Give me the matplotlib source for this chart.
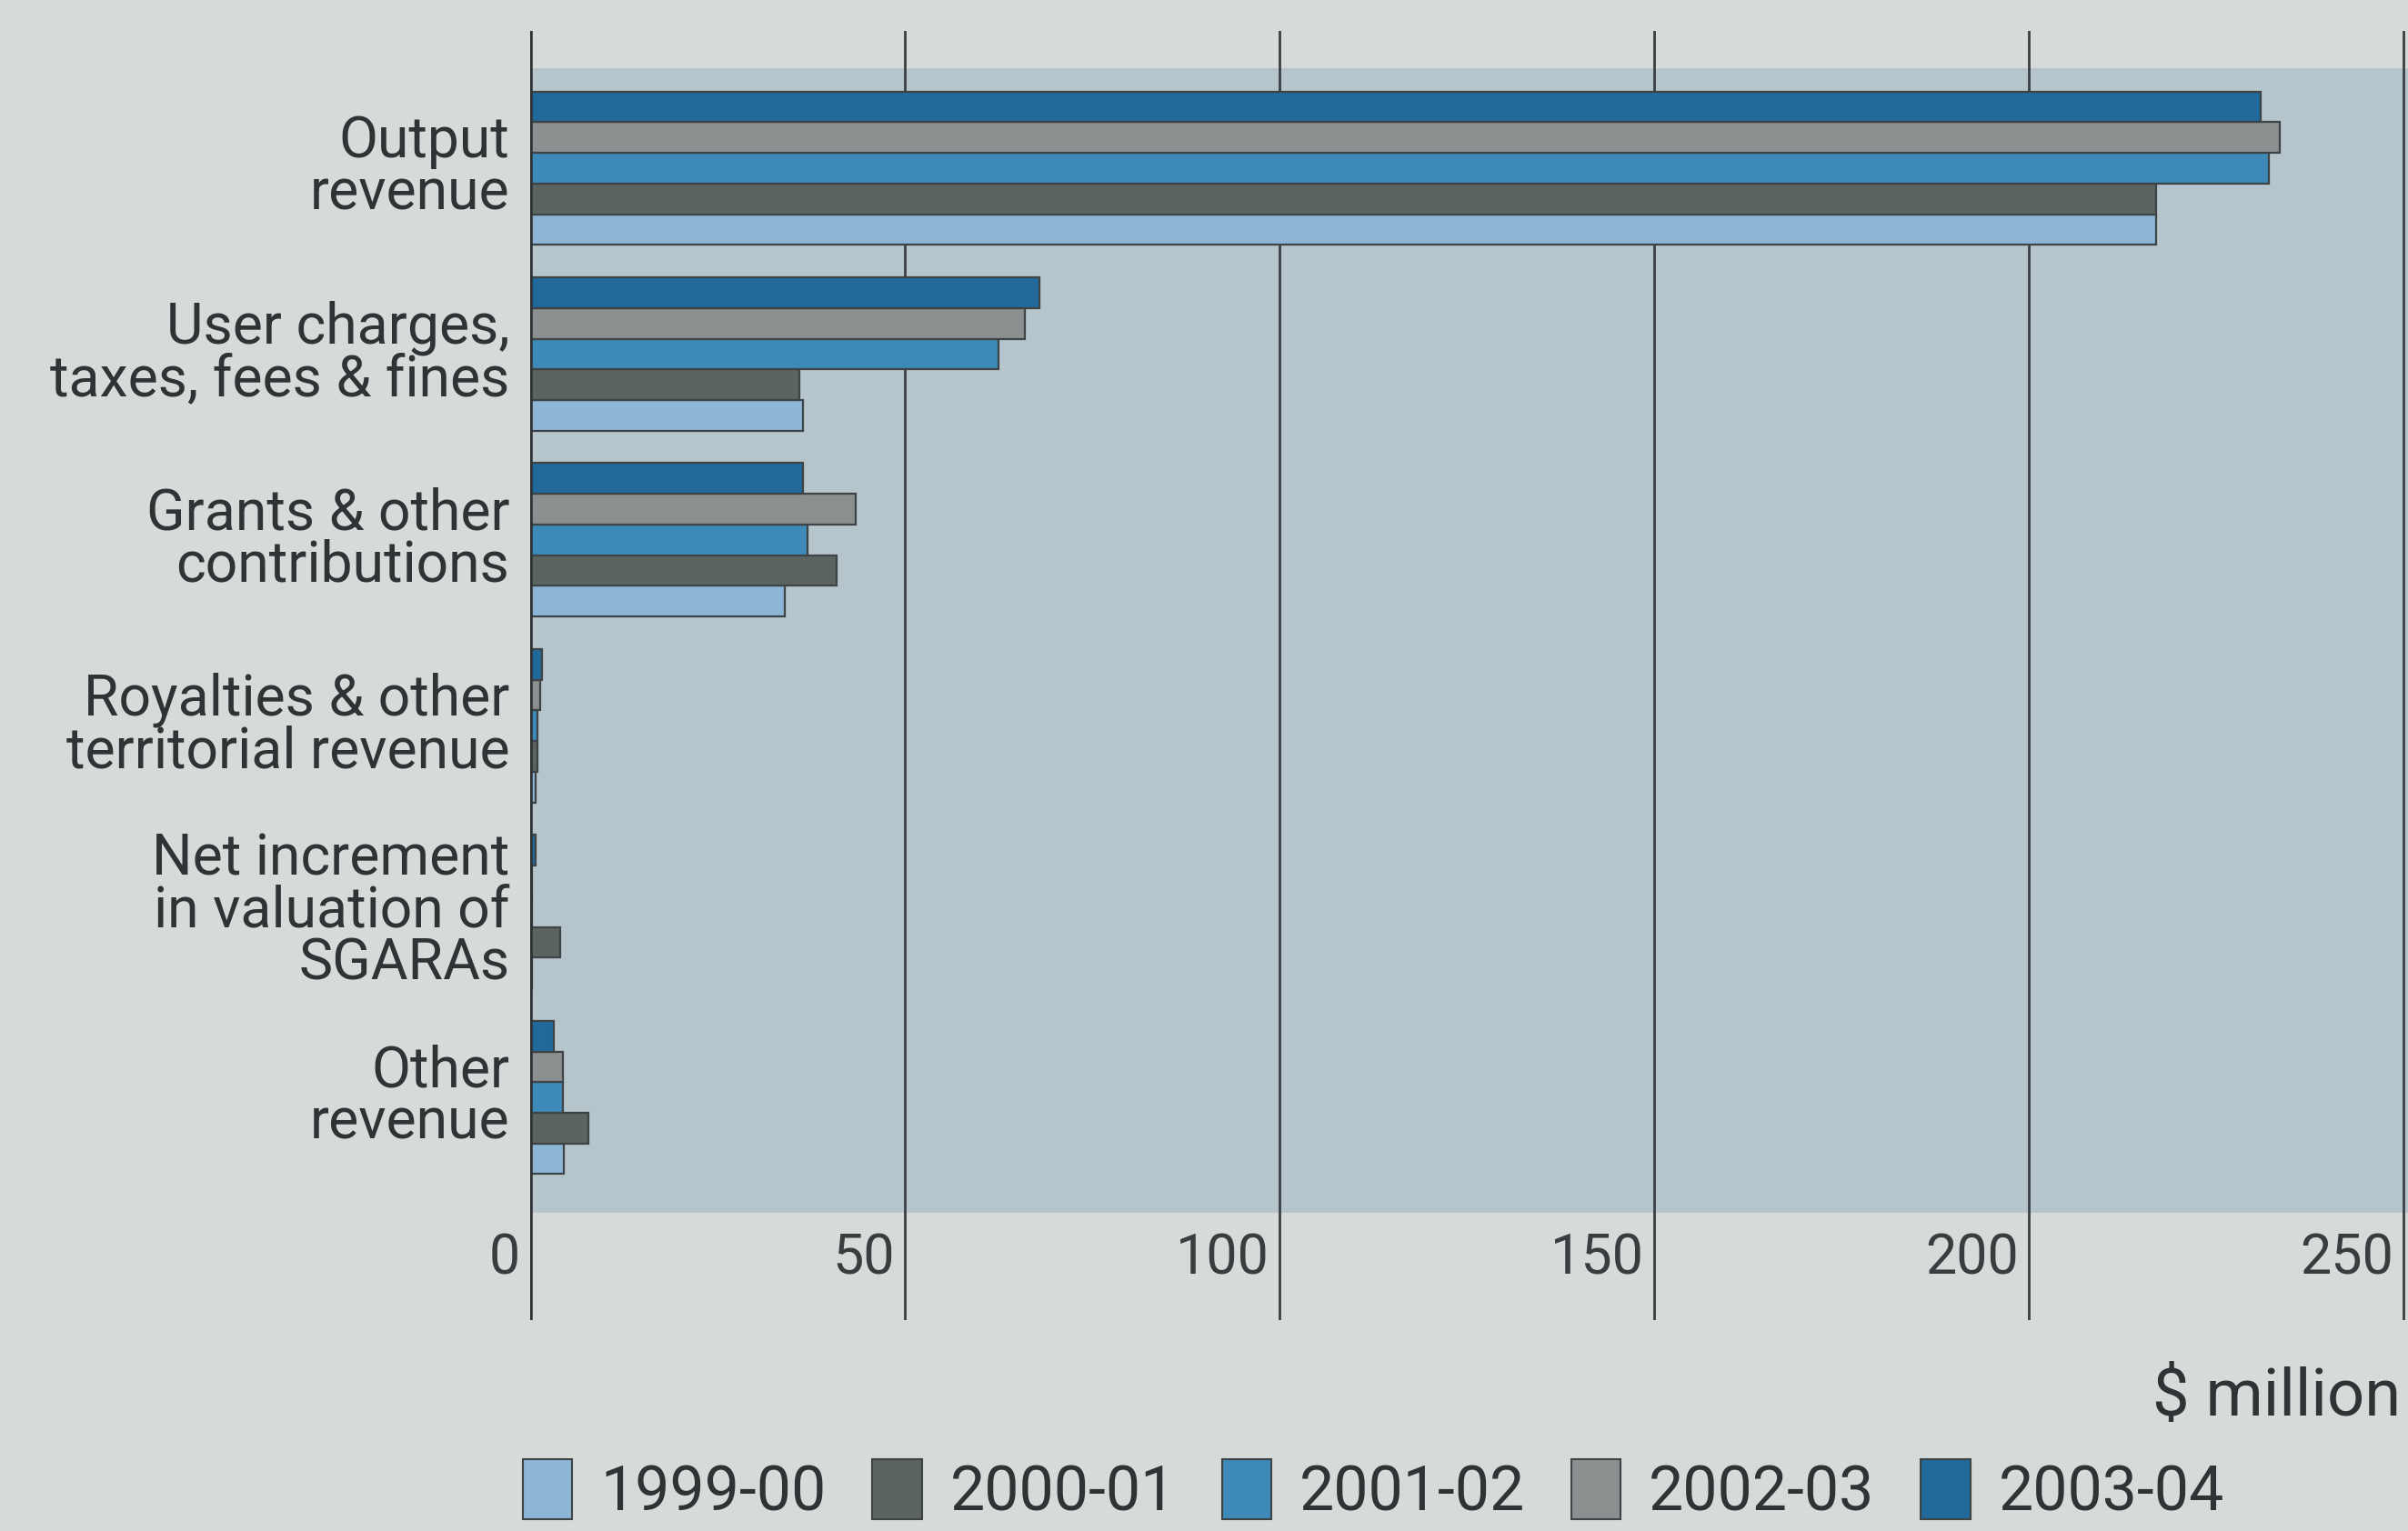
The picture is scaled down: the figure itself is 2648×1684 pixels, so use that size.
import matplotlib
matplotlib.use("Agg")
import matplotlib.pyplot as plt
from matplotlib.patches import Patch
import numpy as np

plt.rcParams['font.family'] = ['Roboto', 'DejaVu Sans']

categories = [
    "Output\nrevenue",
    "User charges,\ntaxes, fees & fines",
    "Grants & other\ncontributions",
    "Royalties & other\nterritorial revenue",
    "Net increment\nin valuation of\nSGARAs",
    "Other\nrevenue",
]
years = ["1999-00", "2000-01", "2001-02", "2002-03", "2003-04"]

rev_1999_00 = [217.0, 36.5, 34.0, 0.8, 0.3, 4.6]
rev_2000_01 = [217.0, 36.0, 41.0, 1.0, 4.0, 7.8]
rev_2001_02 = [232.0, 62.5, 37.0, 1.0, 0.3, 4.4]
rev_2002_03 = [233.5, 66.0, 43.5, 1.4, 0.3, 4.4]
rev_2003_04 = [231.0, 68.0, 36.5, 1.6, 0.8, 3.2]
series = [rev_1999_00, rev_2000_01, rev_2001_02, rev_2002_03, rev_2003_04]

colors = ["#8db6d6", "#5c6462", "#3d89b8", "#8b8f8f", "#21699a"]
x_ticks = [0, 50, 100, 150, 200, 250]

bg = "#d6dad8"
panel = "#b6c4cb"
ink = "#2f3335"

fig = plt.figure(figsize=(26.48, 16.84), dpi=100, facecolor=bg)
ax = fig.add_axes([0.2200, 0.1375, 0.7800, 0.8425])
ax.set_facecolor(bg)

ypos = np.arange(len(categories))
bh = 0.165
# 2003-04 sits on top of each group, 1999-00 at the bottom
for k, (vals, col) in enumerate(zip(series, colors)):
    offset = (2 - k) * bh
    ax.barh(ypos + offset, vals, height=bh, color=col,
            edgecolor="#3e4446", linewidth=1.6, zorder=3)

ax.set_xlim(0, 250.6)
ax.set_ylim(6.2, -0.74)
ax.axhspan(-0.54, 5.62, color=panel, zorder=0, lw=0)

for t in x_ticks[1:]:
    ax.axvline(t, color="#3a3f42", lw=2.0, zorder=1)
ax.axvline(0, color="#2e3234", lw=4.0, zorder=4)

for s in ax.spines.values():
    s.set_visible(False)
ax.set_xticks([])
ax.set_yticks([])

for t in x_ticks:
    ax.annotate(str(t), xy=(t, 5.87), xytext=(-8, 0), textcoords="offset points",
                ha="right", va="center", fontsize=44, color="#3a3d3f",
                annotation_clip=False)

for y, lab in zip(ypos, categories):
    ax.annotate(lab, xy=(0, y), xytext=(-16, 0), textcoords="offset points",
                ha="right", va="center", fontsize=45, color=ink,
                linespacing=0.95, annotation_clip=False)

fig.text(0.997, 0.087, "$ million", ha="right", va="center",
         fontsize=52, color=ink)

handles = [Patch(facecolor=c, edgecolor="#3e4446", linewidth=1.5) for c in colors]
leg = fig.legend(handles, years, loc="center left", bbox_to_anchor=(0.194, 0.026),
                 ncol=5, frameon=False, fontsize=49, handlelength=0.8,
                 handleheight=1.1, handletextpad=0.45, columnspacing=0.75,
                 labelcolor=ink)

fig.savefig("out.png", dpi=100, facecolor=bg)
